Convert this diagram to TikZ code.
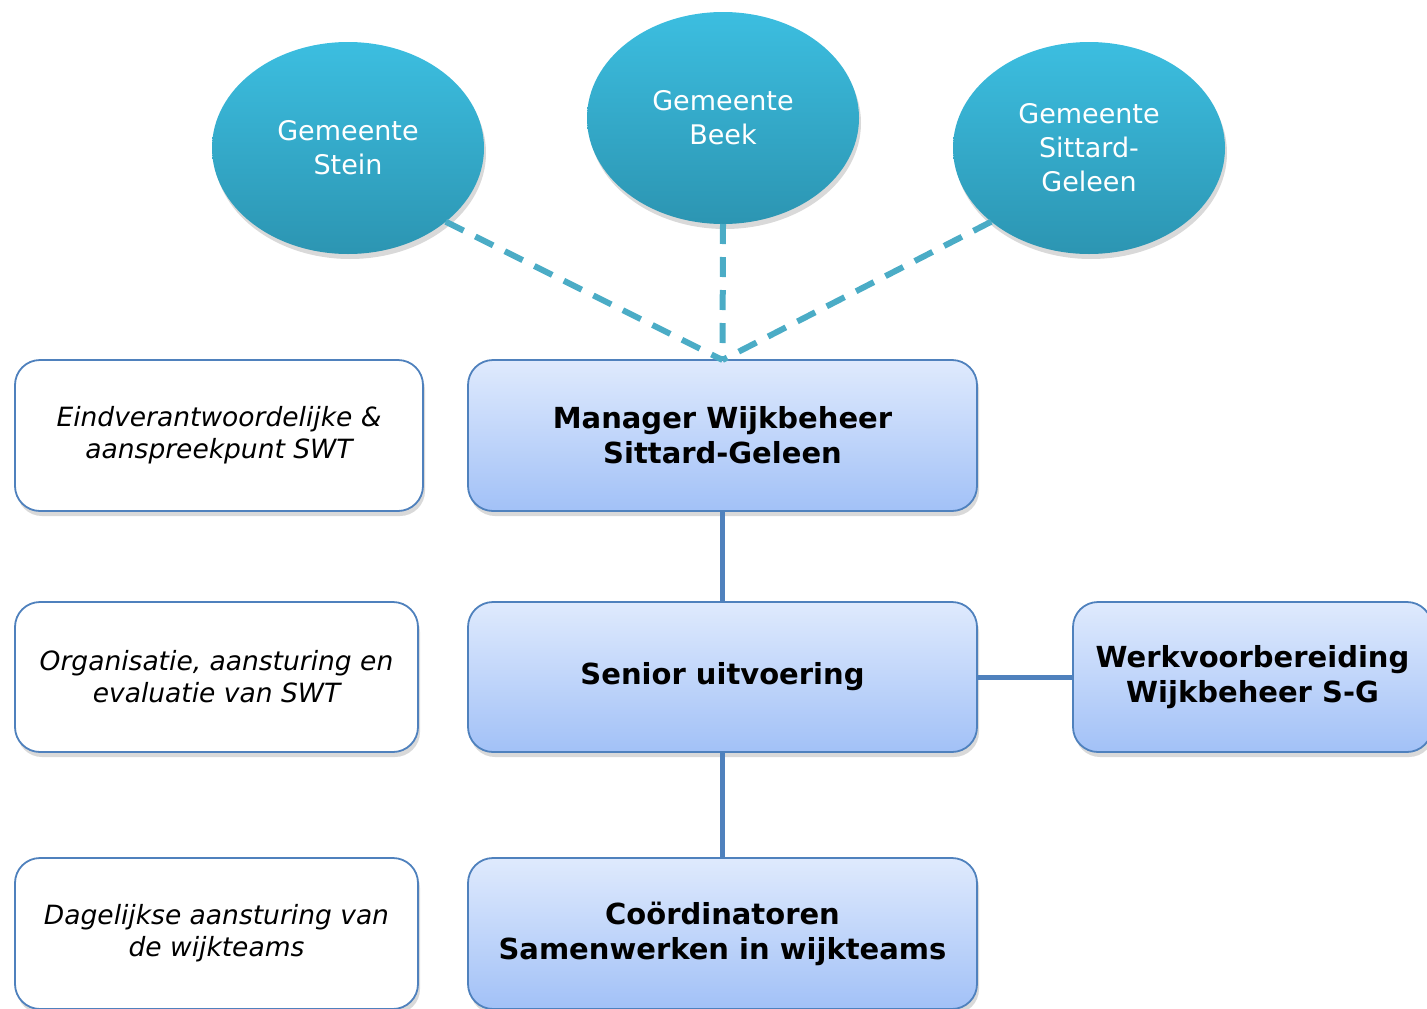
\documentclass[tikz,border=0pt]{standalone}
\usepackage{fontspec}
\setmainfont{DejaVu Sans}
\usetikzlibrary{shapes.geometric,shadows}

\definecolor{ovaltop}{HTML}{3CBEE0}
\definecolor{ovalbot}{HTML}{2C95B2}
\definecolor{boxtop}{HTML}{DFEAFD}
\definecolor{boxbot}{HTML}{A2C1F7}
\definecolor{boxline}{HTML}{4F81BD}
\definecolor{dashcol}{HTML}{4BACC6}

\tikzset{
  schaduw/.style={drop shadow={shadow xshift=2pt, shadow yshift=-5pt, opacity=0.3}},
  gemeente/.style={ellipse, minimum width=272pt, minimum height=212pt, inner sep=0pt, outer sep=0pt,
    top color=ovaltop, bottom color=ovalbot, text=white, align=center,
    font=\fontsize{27}{34}\selectfont, schaduw},
  rolbox/.style={draw=boxline, line width=1.8pt, rounded corners=25pt, outer sep=0pt,
    top color=boxtop, bottom color=boxbot, minimum height=151pt, align=center,
    font=\fontsize{29}{35}\bfseries\selectfont, schaduw},
  taakbox/.style={draw=boxline, line width=1.8pt, rounded corners=25pt, outer sep=0pt,
    fill=white, minimum height=151pt, align=center,
    font=\fontsize{26.5}{32}\itshape\selectfont, schaduw},
  lijn/.style={boxline, line width=5pt},
  stippel/.style={dashcol, line width=6pt, dash pattern=on 20pt off 13pt},
}

\begin{document}
\begin{tikzpicture}[x=1pt,y=-1pt]
  \useasboundingbox (0,0) rectangle (1427,1009);
  % gemeenten
  \node[gemeente] (stein)   at (348,148)  {Gemeente\\Stein};
  \node[gemeente] (beek)    at (723,118)  {Gemeente\\Beek};
  \node[gemeente] (sittard) at (1089,148) {Gemeente\\Sittard-\\Geleen};

  % organisatie
  \node[rolbox, minimum width=509pt] (manager) at (722.5,435.5) {Manager Wijkbeheer\\Sittard-Geleen};
  \node[rolbox, minimum width=509pt, minimum height=150pt] (senior) at (722.5,677) {Senior uitvoering};
  \node[rolbox, minimum width=509pt] (coord) at (722.5,933.5) {Coördinatoren\\Samenwerken in wijkteams};
  \node[rolbox, minimum width=359pt, minimum height=150pt] (werk) at (1252.5,677) {Werkvoorbereiding\\Wijkbeheer S-G};

  % taken
  \node[taakbox, minimum width=408pt] (eind) at (219,435.5) {Eindverantwoordelijke \&\\aanspreekpunt SWT};
  \node[taakbox, minimum width=403pt, minimum height=150pt] (organ) at (216.5,677) {Organisatie, aansturing en\\evaluatie van SWT};
  \node[taakbox, minimum width=403pt] (dagel) at (216.5,933.5) {Dagelijkse aansturing van\\de wijkteams};

  % verbindingen
  \draw[stippel] (stein.-37) -- (manager.north);
  \draw[stippel] (beek.south) -- (manager.north);
  \draw[stippel] (sittard.-143) -- (manager.north);
  \draw[lijn] (manager.south) -- (senior.north);
  \draw[lijn] (senior.south) -- (coord.north);
  \draw[lijn] (senior.east) -- (werk.west);
\end{tikzpicture}
\end{document}
